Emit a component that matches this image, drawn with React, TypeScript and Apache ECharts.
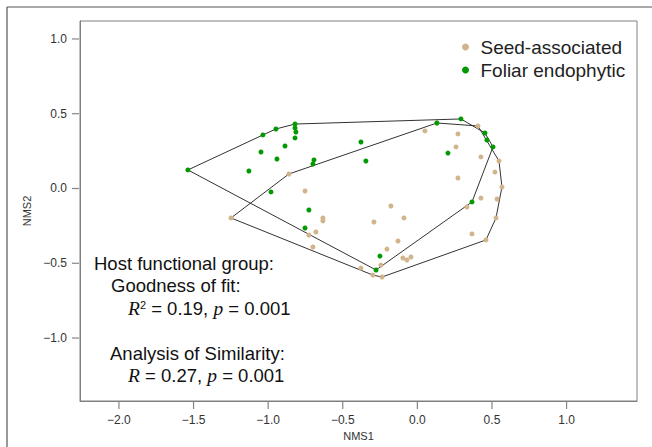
import React, { useEffect, useRef } from "react";
import * as echarts from "echarts";

// Seed-associated endophytes (NMS1, NMS2)
const seedX = [-0.861, -0.753, -1.249, -0.633, -0.633, -0.727, -0.680, -0.700, -0.378, -0.177, -0.291, -0.090, -0.130, -0.204, -0.097, -0.070, -0.043, -0.244, -0.298, -0.237, 0.131, 0.051, 0.272, 0.406, 0.259, 0.426, 0.547, 0.520, 0.272, 0.567, 0.426, 0.534, 0.332, 0.527, 0.460, 0.366];
const seedY = [0.097, -0.017, -0.197, -0.197, -0.217, -0.311, -0.291, -0.391, -0.532, -0.117, -0.224, -0.197, -0.351, -0.405, -0.465, -0.478, -0.458, -0.512, -0.579, -0.592, 0.438, 0.385, 0.365, 0.418, 0.278, 0.211, 0.184, 0.110, 0.070, 0.010, -0.064, -0.070, -0.124, -0.197, -0.344, -0.304];

// Foliar endophytes (NMS1, NMS2)
const foliarX = [-1.538, -1.035, -0.948, -0.820, -0.820, -0.814, -0.820, -0.887, -1.048, -0.941, -1.129, -0.378, -0.345, -0.693, -0.700, -0.981, -0.727, -0.753, -0.251, -0.277, 0.292, 0.131, 0.453, 0.466, 0.507, 0.205, 0.366];
const foliarY = [0.124, 0.358, 0.398, 0.431, 0.405, 0.378, 0.338, 0.284, 0.244, 0.197, 0.117, 0.311, 0.184, 0.191, 0.164, -0.023, -0.144, -0.264, -0.452, -0.545, 0.465, 0.438, 0.371, 0.324, 0.278, 0.237, -0.090];

const seriesNames = ["Seed-associated", "Foliar endophytic"];
const seriesColors = ["#D2B48C", "#009A00"];
const xTicks = [-2.0, -1.5, -1.0, -0.5, 0.0, 0.5, 1.0];
const yTicks = [-1.0, -0.5, 0.0, 0.5, 1.0];
const xMin = -2.261;
const xMax = 1.472;
const yMin = -1.421;
const yMax = 1.12;
const xName = "NMS1";
const yName = "NMS2";
const statsTitle = "Host functional group:";
const fitTitle = "Goodness of fit:";
const fitR2 = "0.19";
const fitP = "0.001";
const anosimTitle = "Analysis of Similarity:";
const anosimR = "0.27";
const anosimP = "0.001";

type Pt = [number, number];

function zip(xs: number[], ys: number[]): Pt[] {
  return xs.map((x, i) => [x, ys[i]] as Pt);
}

function convexHull(points: Pt[]): Pt[] {
  const p = points.slice().sort((a, b) => a[0] - b[0] || a[1] - b[1]);
  const cross = (o: Pt, a: Pt, b: Pt) => (a[0] - o[0]) * (b[1] - o[1]) - (a[1] - o[1]) * (b[0] - o[0]);
  const lower: Pt[] = [];
  for (const q of p) {
    while (lower.length >= 2 && cross(lower[lower.length - 2], lower[lower.length - 1], q) <= 0) lower.pop();
    lower.push(q);
  }
  const upper: Pt[] = [];
  for (let i = p.length - 1; i >= 0; i--) {
    const q = p[i];
    while (upper.length >= 2 && cross(upper[upper.length - 2], upper[upper.length - 1], q) <= 0) upper.pop();
    upper.push(q);
  }
  upper.pop();
  lower.pop();
  const h = lower.concat(upper);
  h.push(h[0]);
  return h;
}

const fmt = (v: number) => v.toFixed(1).replace("-", "\u2212");

export default function App() {
  const ref = useRef<HTMLDivElement>(null);

  useEffect(() => {
    if (!ref.current) return;
    const chart = echarts.init(ref.current, undefined, { renderer: "svg" });
    const seedPts = zip(seedX, seedY);
    const foliarPts = zip(foliarX, foliarY);

    const sans = "Liberation Sans";
    const serif = "Liberation Serif";
    const rich = {
      n: { fontFamily: sans, fontSize: 18.5, lineHeight: 22, fill: "#111", color: "#111" },
      i: { fontFamily: serif, fontStyle: "italic", fontSize: 19.5, lineHeight: 22, fill: "#111", color: "#111" },
      s: { fontFamily: sans, fontSize: 11, lineHeight: 22, verticalAlign: "top", fill: "#111", color: "#111", padding: [2, 0, 0, 0] },
    };
    const txt = (x: number, y: number, text: string) => ({
      type: "text",
      x,
      y,
      silent: true,
      style: {
        text,
        rich,
        fill: "#111",
        align: "left",
        textAlign: "left",
        verticalAlign: "middle",
        textVerticalAlign: "middle",
        font: `18.5px ${sans}`,
      },
    });

    chart.setOption({
      animation: false,
      backgroundColor: "#ffffff",
      grid: {
        left: 80,
        right: 15,
        top: 21,
        bottom: 46,
        show: true,
        borderColor: "#808080",
        borderWidth: 1,
        backgroundColor: "transparent",
      },
      legend: {
        data: seriesNames,
        orient: "vertical",
        left: 457,
        top: 32,
        icon: "circle",
        itemWidth: 20,
        itemHeight: 7,
        itemGap: 3,
        textStyle: { fontFamily: sans, fontSize: 19, color: "#222", lineHeight: 20 },
      },
      xAxis: {
        type: "value",
        min: xMin,
        max: xMax,
        name: xName,
        nameLocation: "middle",
        nameGap: 28,
        nameTextStyle: { fontFamily: sans, fontSize: 11, color: "#333" },
        axisLine: { show: true, onZero: false, lineStyle: { color: "#808080", width: 1 } },
        axisTick: { show: false },
        axisLabel: { customValues: xTicks, formatter: fmt, fontFamily: sans, fontSize: 12, color: "#333", margin: 13 },
        splitLine: { show: false },
      },
      yAxis: {
        type: "value",
        min: yMin,
        max: yMax,
        name: yName,
        nameLocation: "middle",
        nameGap: 37,
        nameTextStyle: { fontFamily: sans, fontSize: 11, color: "#333" },
        axisLine: { show: true, onZero: false, lineStyle: { color: "#808080", width: 1 } },
        axisTick: { show: false },
        axisLabel: { customValues: yTicks, formatter: fmt, fontFamily: sans, fontSize: 12, color: "#333", margin: 13 },
        splitLine: { show: false },
      },
      series: [
        {
          name: "seedHull",
          type: "line",
          data: convexHull(seedPts),
          symbol: "none",
          silent: true,
          lineStyle: { color: "#333", width: 1 },
          z: 1,
        },
        {
          name: "foliarHull",
          type: "line",
          data: convexHull(foliarPts),
          symbol: "none",
          silent: true,
          lineStyle: { color: "#333", width: 1 },
          z: 1,
        },
        {
          name: seriesNames[0],
          type: "scatter",
          data: seedPts,
          symbol: "circle",
          symbolSize: 5,
          itemStyle: { color: seriesColors[0], opacity: 1 },
          z: 3,
        },
        {
          name: seriesNames[1],
          type: "scatter",
          data: foliarPts,
          symbol: "circle",
          symbolSize: 5,
          itemStyle: { color: seriesColors[1], opacity: 1 },
          z: 4,
        },
        {
          name: "xTickMarks",
          type: "scatter",
          data: xTicks.map((v) => [v, yMin]),
          symbol: "rect",
          symbolSize: [1.2, 7],
          symbolOffset: [0, 4.5],
          clip: false,
          silent: true,
          itemStyle: { color: "#666" },
          z: 5,
        },
        {
          name: "yTickMarks",
          type: "scatter",
          data: yTicks.map((v) => [xMin, v]),
          symbol: "rect",
          symbolSize: [7, 1.2],
          symbolOffset: [-4.5, 0],
          clip: false,
          silent: true,
          itemStyle: { color: "#666" },
          z: 5,
        },
      ],
      graphic: [
        { type: "line", silent: true, shape: { x1: 7, y1: 7, x2: 652, y2: 7 }, style: { stroke: "#555", lineWidth: 1.2 } },
        { type: "line", silent: true, shape: { x1: 7, y1: 7, x2: 7, y2: 447 }, style: { stroke: "#555", lineWidth: 1.2 } },
        txt(94, 263, `{n|${statsTitle}}`),
        txt(111, 285.5, `{n|${fitTitle}}`),
        txt(128, 308, `{i|R}{s|2}{n| = ${fitR2}, }{i|p}{n| = ${fitP}}`),
        txt(110, 353, `{n|${anosimTitle}}`),
        txt(128, 375.5, `{i|R}{n| = ${anosimR}, }{i|p}{n| = ${anosimP}}`),
      ],
    });

    return () => chart.dispose();
  }, []);

  return <div ref={ref} style={{ position: "fixed", left: 0, top: 0, width: 652, height: 447 }} />;
}
